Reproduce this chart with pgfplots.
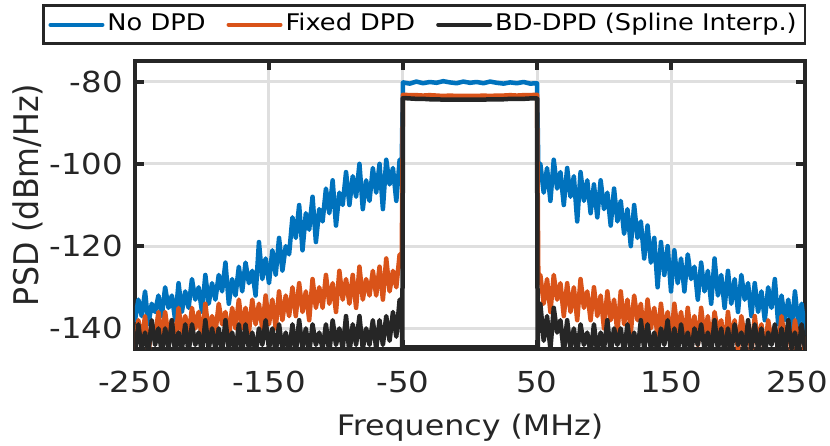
\documentclass[border=0pt]{standalone}
\usepackage{pgfplots}
\pgfplotsset{compat=1.18}
\usepackage{pgfplotstable}
\usepackage{fontspec}
\setmainfont{DejaVu Sans}[FakeStretch=1.12]
\definecolor{c1}{RGB}{0,114,189}
\definecolor{c2}{RGB}{217,83,25}
\definecolor{c3}{RGB}{38,38,38}
\definecolor{gridc}{RGB}{223,223,223}
\pgfplotsset{legend image code/.code={\draw[#1,line width=4bp] (0bp,0bp) -- (52bp,0bp);}}
\pgfplotstableread{
f b o k
-250 -138 -145 -146
-247.5 -133 -138 -139
-245 -137 -143 -145
-242.5 -131 -137 -141
-240 -139 -146 -146
-237.5 -134 -139 -138
-235 -136 -142 -144
-232.5 -132 -136 -140
-230 -137 -143 -146
-227.5 -130 -136 -140
-225 -135 -142 -145
-222.5 -132 -138 -138
-220 -138 -144 -146
-217.5 -129 -135 -141
-215 -136 -141 -145
-212.5 -131 -137 -139
-210 -135 -142 -146
-207.5 -128 -135 -139
-205 -133 -140 -144
-202.5 -130 -136 -141
-200 -136 -143 -146
-197.5 -127 -134 -138
-195 -134 -141 -145
-192.5 -129 -137 -140
-190 -133 -141 -145
-187.5 -127 -134 -140
-185 -131 -139 -146
-182.5 -124 -136 -138
-180 -134 -142 -145
-177.5 -128 -135 -141
-175 -132 -140 -146
-172.5 -125 -133 -139
-170 -131 -140 -146
-167.5 -124 -135 -139
-165 -129 -141 -145
-162.5 -126 -133 -141
-160 -132 -139 -146
-157.5 -119 -134 -140
-155 -128 -140 -144
-152.5 -123 -132 -138
-150 -129 -139 -145
-147.5 -121 -133 -140
-145 -127 -140 -146
-142.5 -118 -131 -139
-140 -126 -138 -145
-137.5 -120 -132 -141
-135 -122 -137 -146
-132.5 -113 -130 -139
-130 -118 -137 -146
-127.5 -110 -129 -138
-125 -121 -136 -145
-122.5 -112 -131 -140
-120 -116 -138 -146
-117.5 -108 -128 -139
-115 -119 -135 -144
-112.5 -111 -130 -141
-110 -114 -135 -145
-107.5 -106 -127 -139
-105 -112 -134 -146
-102.5 -104 -129 -138
-100 -115 -136 -144
-97.5 -107 -126 -140
-95 -110 -133 -145
-92.5 -102 -128 -137
-90 -110 -134 -146
-87.5 -103 -127 -139
-85 -108 -135 -144
-82.5 -100 -125 -137
-80 -111 -133 -145
-77.5 -104 -128 -140
-75 -109 -132 -144
-72.5 -101 -126 -138
-70 -107 -132 -145
-67.5 -100 -125 -138
-65 -111 -133 -144
-62.5 -99 -123 -137
-60 -105 -131 -143
-57.5 -101 -126 -136
-55 -109 -130 -142
-52.5 -99 -122 -133
-51 -100.5 -125 -136
-50.5 -90 -104 -146
-50 -80.2 -83.2 -84.0
-45 -80.5 -83.3 -84.1
-40 -80.0 -83.3 -84.2
-35 -80.4 -83.4 -84.2
-30 -80.1 -83.3 -84.3
-25 -80.3 -83.4 -84.3
-20 -79.9 -83.5 -84.4
-15 -80.2 -83.4 -84.4
-10 -80.4 -83.5 -84.4
-5 -80.0 -83.5 -84.4
0 -80.3 -83.5 -84.4
5 -80.1 -83.5 -84.4
10 -80.4 -83.4 -84.4
15 -80.0 -83.5 -84.3
20 -80.3 -83.4 -84.3
25 -80.5 -83.4 -84.3
30 -80.2 -83.3 -84.2
35 -80.4 -83.4 -84.2
40 -80.1 -83.3 -84.2
45 -80.5 -83.3 -84.1
50 -80.4 -83.2 -84.1
50.5 -90 -105 -146
51 -101 -128 -136
52.5 -100 -127 -134
55 -107 -134 -143
57.5 -101 -128 -137
60 -109 -136 -145
62.5 -99 -127 -135
65 -106 -133 -141
67.5 -102 -129 -138
70 -110 -137 -146
72.5 -101 -129 -138
75 -108 -136 -145
77.5 -103 -130 -140
80 -114 -138 -146
82.5 -102 -128 -139
85 -109 -135 -144
87.5 -104 -131 -141
90 -112 -138 -146
92.5 -105 -130 -139
95 -113 -137 -146
97.5 -104 -132 -141
100 -111 -140 -145
102.5 -107 -131 -138
105 -115 -138 -146
107.5 -106 -133 -140
110 -114 -141 -144
112.5 -109 -131 -140
115 -117 -139 -146
117.5 -111 -133 -139
120 -120 -141 -145
122.5 -110 -132 -141
125 -118 -138 -146
127.5 -114 -134 -138
130 -123 -142 -145
132.5 -115 -133 -139
135 -124 -140 -145
137.5 -118 -135 -141
140 -130 -142 -146
142.5 -119 -134 -140
145 -127 -141 -144
147.5 -120 -136 -138
150 -131 -143 -146
152.5 -121 -134 -140
155 -129 -141 -146
157.5 -123 -136 -139
160 -131 -143 -145
162.5 -122 -135 -141
165 -128 -142 -146
167.5 -125 -137 -140
170 -133 -144 -144
172.5 -124 -135 -139
175 -131 -142 -145
177.5 -126 -137 -141
180 -134 -144 -146
182.5 -123 -136 -138
185 -132 -141 -145
187.5 -127 -138 -140
190 -135 -145 -146
192.5 -126 -136 -140
195 -134 -143 -146
197.5 -128 -138 -139
200 -136 -145 -144
202.5 -127 -137 -141
205 -133 -142 -146
207.5 -129 -139 -138
210 -137 -146 -145
212.5 -129 -137 -139
215 -136 -144 -145
217.5 -131 -139 -140
220 -138 -146 -146
222.5 -130 -138 -141
225 -135 -143 -144
227.5 -128 -140 -139
230 -139 -145 -146
232.5 -132 -137 -140
235 -138 -143 -146
237.5 -133 -139 -138
240 -140 -146 -145
242.5 -131 -138 -141
245 -139 -144 -146
247.5 -134 -140 -139
250 -141 -146 -145
}\psd
\begin{document}
\begin{tikzpicture}
\begin{axis}[
  at={(0,0)}, anchor=south west,
  scale only axis, width=670bp, height=288bp,
  xmin=-250, xmax=250, ymin=-145, ymax=-75,
  xtick={-250,-150,-50,50,150,250},
  xticklabels={-250,-150,-50,50,150,{\hspace*{-16bp}250}},
  ytick={-140,-120,-100,-80},
  grid=major, major grid style={gridc, line width=3bp},
  axis line style={c3, line width=4bp},
  tick style={c3, line width=4bp},
  major tick length=9bp,
  tick align=inside,
  tick label style={font=\fontsize{29}{34}\selectfont, text=c3, /pgf/number format/assume math mode=true},
  xticklabel style={anchor=base, yshift=-43bp},
  yticklabel style={anchor=east, xshift=-12bp, inner sep=0pt},
  xlabel={Frequency (MHz)}, ylabel={PSD (dBm/Hz)},
  label style={font=\fontsize{28.4}{34}\selectfont, text=c3},
  xlabel style={at={(axis description cs:0.5,0)}, anchor=base, yshift=-86bp},
  ylabel style={at={(axis description cs:-0.1597,0.535)}, anchor=center, yscale=1.2},
  legend columns=-1,
  legend cell align=left,
  legend style={at={(1.0015,1.0556)}, anchor=south east,
    font=\fontsize{23}{27}\selectfont, draw=c3, line width=2.5bp,
    inner xsep=5bp, inner ysep=5bp,
    nodes={inner sep=3bp, text height=17bp, text depth=5bp},
    /tikz/every even column/.append style={column sep=18bp}},
]
\addplot[c1, line width=4.5bp, line join=round, line cap=round] table[x=f,y=b] {\psd};
\addlegendentry{No DPD}
\addplot[c2, line width=4.5bp, line join=round, line cap=round] table[x=f,y=o] {\psd};
\addlegendentry{Fixed DPD}
\addplot[c3, line width=4.5bp, line join=round, line cap=round] table[x=f,y=k] {\psd};
\addlegendentry{BD-DPD (Spline Interp.)}
\addplot[c3, line width=2.5bp, forget plot] coordinates {(-50,-144.4) (50,-144.4)};
\end{axis}
\pgfresetboundingbox
\path[use as bounding box] (-135bp,-97bp) rectangle (695bp,349bp);
\end{tikzpicture}
\end{document}
